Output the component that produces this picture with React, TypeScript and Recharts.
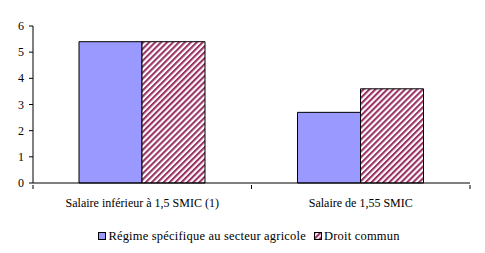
import { BarChart, Bar, XAxis, YAxis, Legend } from "recharts";

const categories = ["Salaire inférieur à 1,5 SMIC (1)", "Salaire de 1,55 SMIC"];
const regimeAgricole = [5.4, 2.7];
const droitCommun = [5.4, 3.6];
const yTicks = [0, 1, 2, 3, 4, 5, 6];

const SERIES = [
  { key: "agricole", name: "Régime spécifique au secteur agricole", fill: "#9999ff" },
  { key: "commun", name: "Droit commun", fill: "url(#hatch)" },
];

const data = categories.map((c, i) => ({
  name: c,
  agricole: regimeAgricole[i],
  commun: droitCommun[i],
}));

const FONT = '"Liberation Serif", serif';

function CategoryTick(props: any) {
  const { x, y, payload, index } = props;
  const half = payload?.offset ?? 109;
  return (
    <g>
      <line x1={x - half} y1={y - 6} x2={x - half} y2={y - 2} stroke="#000" />
      {index === categories.length - 1 && (
        <line x1={x + half} y1={y - 6} x2={x + half} y2={y - 2} stroke="#000" />
      )}
      <text x={x} y={y + 16} textAnchor="middle" fill="#000" style={{ fontFamily: FONT, fontSize: 12 }}>
        {payload.value}
      </text>
    </g>
  );
}

function NumTick(props: any) {
  const { x, y, payload } = props;
  return (
    <text x={x - 3} y={y + 4} textAnchor="end" fill="#000" style={{ fontFamily: FONT, fontSize: 12 }}>
      {payload.value}
    </text>
  );
}

function LegendBox() {
  return (
    <div
      style={{
        display: "flex",
        justifyContent: "center",
        alignItems: "center",
        fontFamily: FONT,
        fontSize: 12.5,
        letterSpacing: 0.2,
        color: "#000",
        paddingLeft: 28,
        height: 22,
      }}
    >
      {SERIES.map((s, i) => (
        <span key={s.key} style={{ display: "inline-flex", alignItems: "center", marginRight: i === 0 ? 8 : 0 }}>
          <svg width={8} height={8} style={{ marginRight: 2 }}>
            <defs>
              <pattern id="hatchSmall" width="4" height="4" patternUnits="userSpaceOnUse" patternTransform="rotate(45)">
                <rect width="4" height="4" fill="#fff" />
                <rect width="2.2" height="4" fill="#993366" />
              </pattern>
            </defs>
            <rect x={0.5} y={0.5} width={7} height={7} fill={s.fill === "url(#hatch)" ? "url(#hatchSmall)" : s.fill} stroke="#000" />
          </svg>
          {s.name}
        </span>
      ))}
    </div>
  );
}

export default function App() {
  return (
    <div style={{ position: "absolute", left: 0, top: 0, width: 485, height: 253, background: "#fff", fontFamily: FONT }}>
      <BarChart
        width={485}
        height={253}
        data={data}
        margin={{ top: 26, right: 15, bottom: 6, left: 0 }}
        barGap={0}
        barSize={63}
      >
        <defs>
          <pattern id="hatch" width="4.2" height="4.2" patternUnits="userSpaceOnUse" patternTransform="rotate(45)">
            <rect width="4.2" height="4.2" fill="#fff" />
            <rect width="2.1" height="4.2" fill="#993366" />
          </pattern>
        </defs>
        <XAxis
          dataKey="name"
          axisLine={{ stroke: "#000" }}
          tickLine={false}
          tick={<CategoryTick />}
          height={42}
          interval={0}
        />
        <YAxis
          domain={[0, 6]}
          ticks={yTicks}
          width={33}
          axisLine={{ stroke: "#000" }}
          tickLine={{ stroke: "#000" }}
          tickSize={4}
          tick={<NumTick />}
          interval={0}
        />
        <Legend verticalAlign="bottom" height={22} content={<LegendBox />} />
        {SERIES.map((s) => (
          <Bar
            key={s.key}
            dataKey={s.key}
            name={s.name}
            fill={s.fill}
            stroke="#000"
            strokeWidth={1}
            isAnimationActive={false}
          />
        ))}
      </BarChart>
    </div>
  );
}
